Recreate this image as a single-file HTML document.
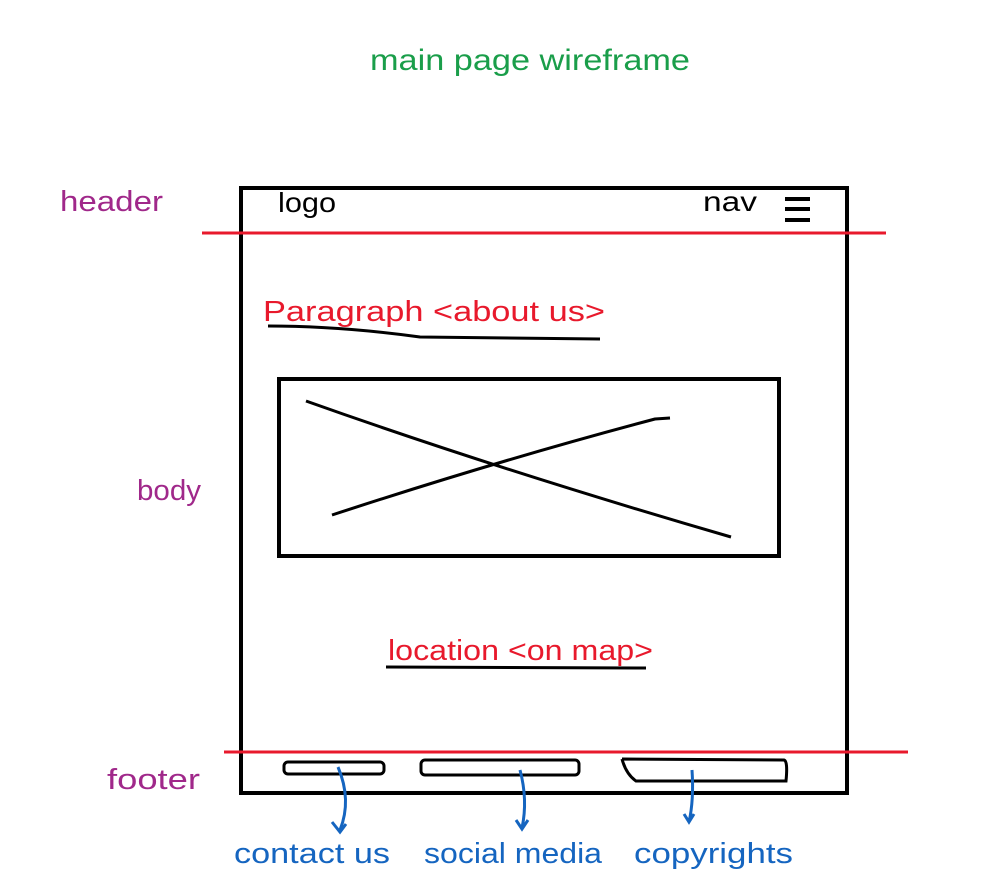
<!DOCTYPE html>
<html>
<head>
<meta charset="utf-8">
<style>
  html,body{margin:0;padding:0;background:#fff;}
  svg{display:block;}
  text{font-family:"Liberation Sans",sans-serif;}
</style>
</head>
<body>
<svg width="1004" height="889" viewBox="0 0 1004 889">
  <text x="370" y="70" font-size="30" fill="#1a9e4a" textLength="320" lengthAdjust="spacingAndGlyphs">main page wireframe</text>

  <rect x="241" y="188" width="606" height="605" fill="none" stroke="#000" stroke-width="4"/>

  <line x1="202" y1="233" x2="886" y2="233" stroke="#e8192c" stroke-width="3"/>
  <line x1="224" y1="752" x2="908" y2="752" stroke="#e8192c" stroke-width="3"/>

  <text x="60" y="211" font-size="29" fill="#a0288a" textLength="103" lengthAdjust="spacingAndGlyphs">header</text>
  <text x="137" y="500" font-size="29" fill="#a0288a" textLength="64" lengthAdjust="spacingAndGlyphs">body</text>
  <text x="107" y="789" font-size="29" fill="#a0288a" textLength="93" lengthAdjust="spacingAndGlyphs">footer</text>

  <text x="278" y="212" font-size="28" fill="#000" textLength="58" lengthAdjust="spacingAndGlyphs">logo</text>
  <text x="703" y="211" font-size="28" fill="#000" textLength="54" lengthAdjust="spacingAndGlyphs">nav</text>
  <g stroke="#000" stroke-width="4">
    <line x1="785" y1="199" x2="810" y2="199"/>
    <line x1="785" y1="209" x2="810" y2="209"/>
    <line x1="785" y1="220" x2="810" y2="220"/>
  </g>

  <text x="263" y="321" font-size="29" fill="#e8192c" textLength="342" lengthAdjust="spacingAndGlyphs">Paragraph &lt;about us&gt;</text>
  <path d="M268 326 Q340 326 420 337 L600 339" fill="none" stroke="#000" stroke-width="3"/>

  <rect x="279" y="379" width="500" height="177" fill="none" stroke="#000" stroke-width="4"/>
  <path d="M306 401 Q500 470 731 537" fill="none" stroke="#000" stroke-width="3"/>
  <path d="M332 515 Q500 460 655 419 L670 418" fill="none" stroke="#000" stroke-width="3"/>

  <text x="388" y="660" font-size="29" fill="#e8192c" textLength="265" lengthAdjust="spacingAndGlyphs">location &lt;on map&gt;</text>
  <line x1="386" y1="667" x2="646" y2="668" stroke="#000" stroke-width="3"/>

  <rect x="284" y="762" width="100" height="12" rx="4" fill="none" stroke="#000" stroke-width="3"/>
  <rect x="421" y="760" width="158" height="15" rx="4" fill="none" stroke="#000" stroke-width="3"/>
  <path d="M622 759 L784 760 Q788 761 786 781 L636 781 Q626 774 622 759" fill="none" stroke="#000" stroke-width="3"/>

  <g fill="none" stroke="#1565c0" stroke-width="3">
    <path d="M338 767 Q352 800 340 830 M332 822 L340 832 L346 824"/>
    <path d="M520 770 Q528 800 522 828 M516 820 L522 829 L528 820"/>
    <path d="M692 770 Q694 800 689 822 M684 814 L689 822 L694 814"/>
  </g>

  <text x="234" y="863" font-size="29" fill="#1565c0" textLength="156" lengthAdjust="spacingAndGlyphs">contact us</text>
  <text x="424" y="863" font-size="29" fill="#1565c0" textLength="178" lengthAdjust="spacingAndGlyphs">social media</text>
  <text x="634" y="863" font-size="29" fill="#1565c0" textLength="159" lengthAdjust="spacingAndGlyphs">copyrights</text>
</svg>
</body>
</html>
